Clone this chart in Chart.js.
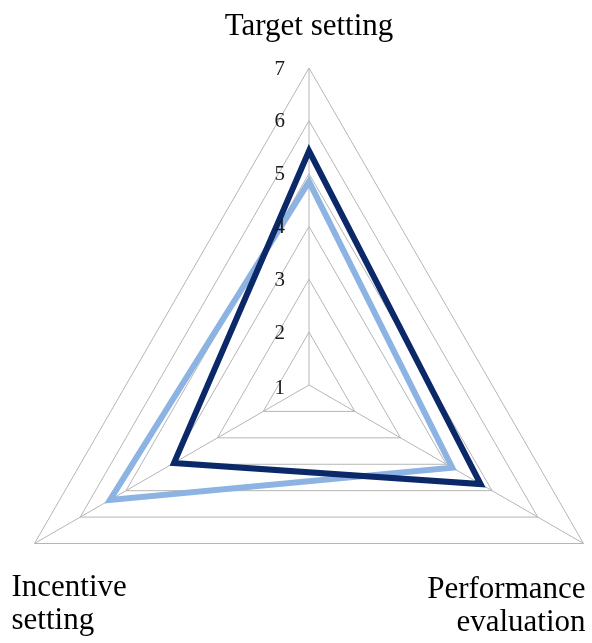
<!DOCTYPE html>
<html lang="en">
<head>
    <meta charset="UTF-8">
    <title>Radar</title>
    <script src="https://cdn.jsdelivr.net/npm/chart.js@4.4.1/dist/chart.umd.min.js"></script>
    <style>
        body { margin: 0; background: #fff; }
    </style>
</head>
<body>
    <canvas id="radarChart" width="592" height="643"></canvas>
    <script>
        // axes, clockwise from the top
        var axisLabels = [['Target setting'], ['Performance', 'evaluation'], ['Incentive', 'setting']];
        var darkValues = [5.43, 4.75, 3.95];
        var lightValues = [4.85, 4.13, 5.35];
        var tickValues = [1, 2, 3, 4, 5, 6, 7];

        var serif = "'Liberation Serif', 'Times New Roman', serif";

        // excel style text: tick numbers left of the axis, labels under the corners
        var textPlugin = {
            id: 'excelText',
            afterDraw: function (chart) {
                var ctx = chart.ctx;
                var scale = chart.scales.r;
                ctx.save();
                ctx.fillStyle = '#1a1a1a';
                ctx.font = '21px ' + serif;
                ctx.textAlign = 'right';
                ctx.textBaseline = 'middle';
                for (var i = 0; i < tickValues.length; i++) {
                    var d = scale.getDistanceFromCenterForValue(tickValues[i]);
                    ctx.fillText(String(tickValues[i]), scale.xCenter - 24, scale.yCenter - d + (i == 0 ? 3 : 1));
                }

                ctx.fillStyle = '#000';
                ctx.font = '31px ' + serif;
                ctx.textBaseline = 'alphabetic';
                for (var j = 0; j < axisLabels.length; j++) {
                    var p = scale.getPointPosition(j, scale.drawingArea);
                    var lines = axisLabels[j];
                    for (var k = 0; k < lines.length; k++) {
                        if (j == 0) {
                            ctx.textAlign = 'center';
                            ctx.fillText(lines[k], p.x, p.y - 33);
                        } else if (j == 1) {
                            ctx.textAlign = 'right';
                            ctx.fillText(lines[k], p.x + 2, p.y + 54 + k * 33);
                        } else {
                            ctx.textAlign = 'left';
                            ctx.fillText(lines[k], p.x - 23, p.y + 52 + k * 33);
                        }
                    }
                }
                ctx.restore();
            }
        };

        var ctx = document.getElementById('radarChart');
        var myChart = new Chart(ctx, {
            type: 'radar',
            data: {
                labels: axisLabels,
                datasets: [{
                    label: 'dark',
                    data: darkValues,
                    borderColor: '#0b2868',
                    borderWidth: 6,
                    pointRadius: 0,
                    fill: false
                }, {
                    label: 'light',
                    data: lightValues,
                    borderColor: '#8db3e2',
                    borderWidth: 6,
                    pointRadius: 0,
                    fill: false
                }]
            },
            options: {
                responsive: false,
                animation: false,
                plugins: {
                    legend: { display: false },
                    tooltip: { enabled: false }
                },
                scales: {
                    r: {
                        min: 1,
                        max: 7,
                        ticks: { stepSize: 1, display: false },
                        grid: { color: '#b5b5b5', lineWidth: 1 },
                        angleLines: { color: '#b5b5b5', lineWidth: 1 },
                        pointLabels: { display: false },
                        afterFit: function (scale) {
                            // centre sits low, the top label goes above
                            scale.xCenter = 309;
                            scale.yCenter = 385;
                            scale.drawingArea = 317;
                        }
                    }
                }
            },
            plugins: [textPlugin]
        });
    </script>
</body>
</html>
